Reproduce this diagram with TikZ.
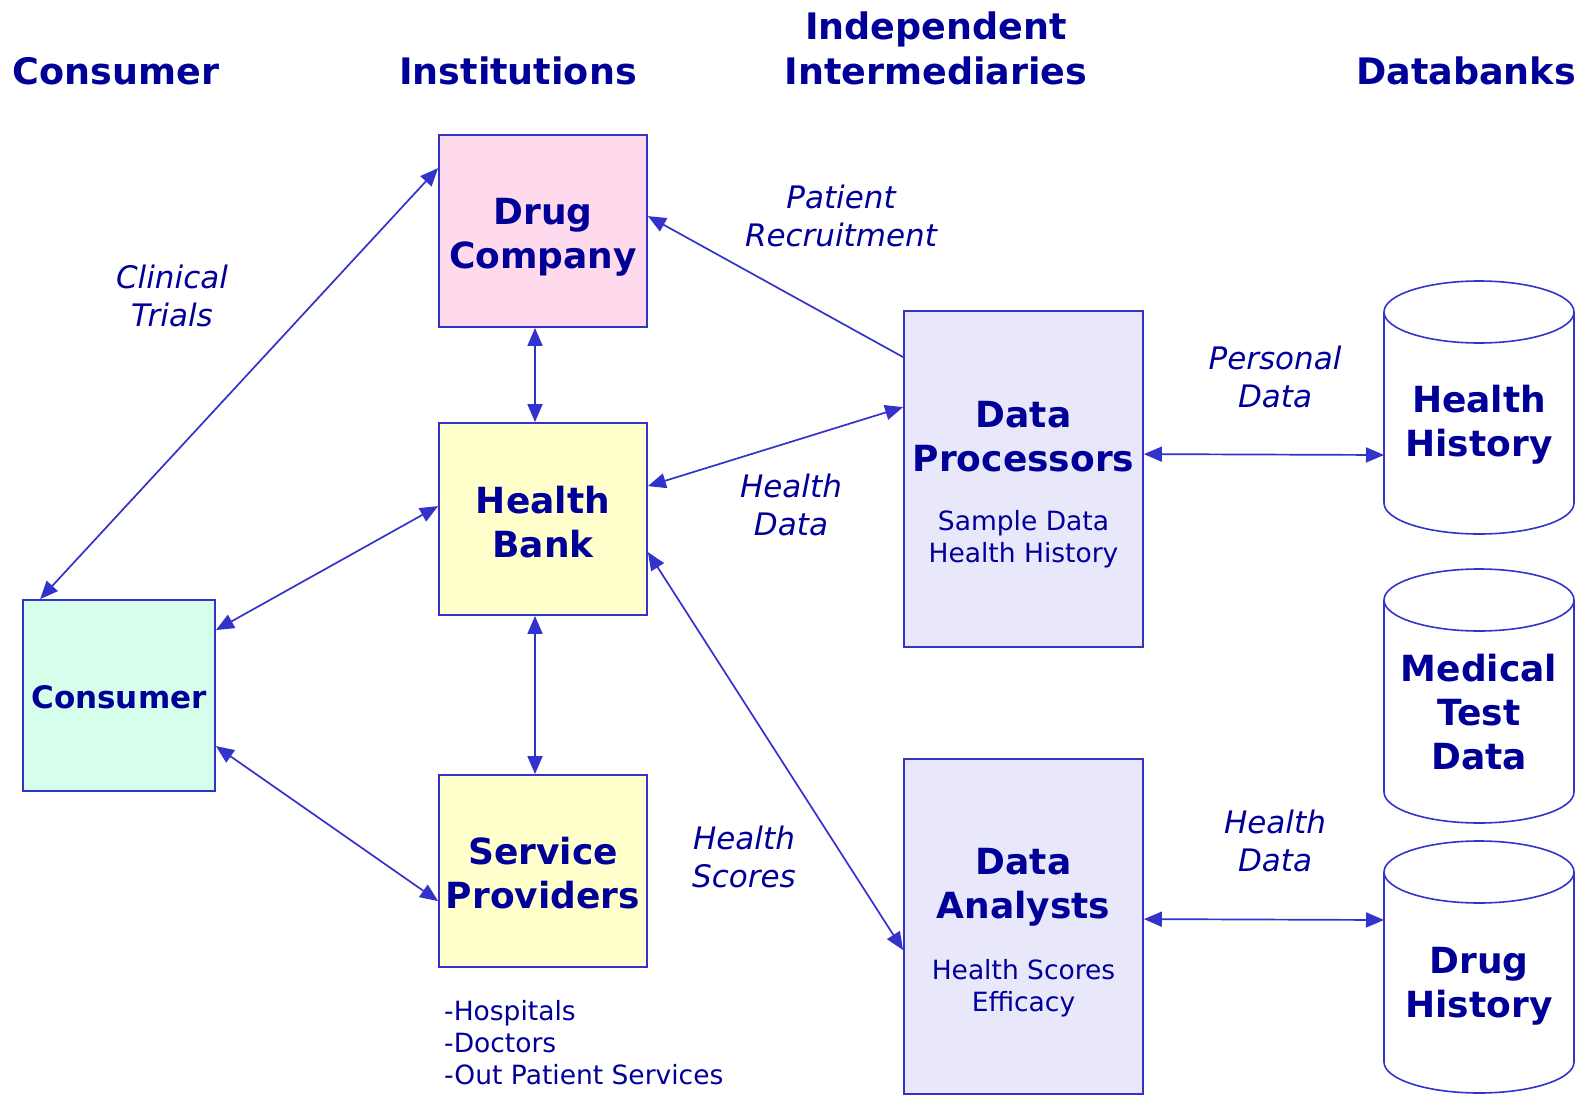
\documentclass[tikz,border=0pt]{standalone}
\usepackage{fontspec}
\setmainfont{DejaVu Sans}
\usetikzlibrary{arrows.meta,calc}
\definecolor{navy}{RGB}{0,0,153}
\definecolor{lineblue}{RGB}{51,51,204}
\definecolor{pinkfill}{RGB}{255,217,236}
\definecolor{yellowfill}{RGB}{255,255,204}
\definecolor{mintfill}{RGB}{213,255,234}
\definecolor{lavfill}{RGB}{232,232,250}
\newcommand\drawdbcyl[3]{%
  \draw[cyl] (#1-95,#2) -- (#1-95,#3) arc[start angle=180,end angle=360,x radius=95pt,y radius=31pt] -- (#1+95,#2);
  \draw[cyl] (#1,#2) ellipse[x radius=95pt,y radius=31pt];}
\begin{document}
\begin{tikzpicture}[x=1pt,y=-1pt,
  box/.style={draw=lineblue,line width=1.8pt,inner sep=0pt,text=navy,align=center,
    font=\fontsize{36}{44}\selectfont\bfseries},
  head/.style={text=navy,font=\fontsize{36.5}{45}\selectfont\bfseries,inner sep=0pt,align=center},
  big/.style={text=navy,font=\fontsize{36}{44}\selectfont\bfseries,inner sep=0pt,align=center},
  lab/.style={text=navy,font=\fontsize{31}{38}\selectfont\itshape,inner sep=0pt,align=center},
  small/.style={text=navy,font=\fontsize{26.5}{32}\selectfont,inner sep=0pt,align=center},
  cyl/.style={draw=lineblue,line width=1.6pt,fill=white},
  conn/.style={draw=lineblue,line width=1.7pt,{Triangle[length=18pt,width=15pt]}-{Triangle[length=18pt,width=15pt]}},
  oneway/.style={draw=lineblue,line width=1.7pt,-{Triangle[length=18pt,width=15pt]}}]
\useasboundingbox (0,0) rectangle (1583,1095);
\fill[white] (0,0) rectangle (1583,1095);

% headers
\node[head,anchor=base] (hcons) at (116,84) {Consumer};
\node[head,anchor=base] (hinst) at (518,84) {Institutions};
\node[head,anchor=base] (hind1) at (936,39) {Independent};
\node[head,anchor=base] (hind2) at (936,84) {Intermediaries};
\node[head,anchor=base] (hdata) at (1466,84) {Databanks};

% boxes
\node[box,fill=pinkfill,minimum width=208pt,minimum height=192pt] (drug) at (543,231) {};
\node[big] (drugt) at (543,237) {Drug\\Company};
\node[box,fill=yellowfill,minimum width=208pt,minimum height=192pt] (hb) at (543,519) {};
\node[big] (hbt) at (543,522) {Health\\Bank};
\node[box,fill=yellowfill,minimum width=208pt,minimum height=192pt] (sp) at (543,871) {};
\node[big] (spt) at (543,873) {Service\\Providers};
\node[box,fill=mintfill,minimum width=192pt,minimum height=191pt,font=\fontsize{31}{38}\selectfont\bfseries] (cons) at (119,695.5) {};
\node[big,font=\fontsize{31}{38}\selectfont\bfseries] (const) at (119,697.5) {Consumer};
\node[box,fill=lavfill,minimum width=239pt,minimum height=336pt] (dp) at (1023.5,479) {};
\node[box,fill=lavfill,minimum width=239pt,minimum height=335pt] (da) at (1023.5,926.5) {};

\node[big] (dpt) at (1023.5,437) {Data\\Processors};
\node[small] (dps) at (1023.5,539) {Sample Data\\Health History};
\node[big] (dat) at (1023.5,887) {Data\\Analysts};
\node[small] (das) at (1023.5,988) {Health Scores\\Efficacy};

\node[small,align=left,anchor=north west] (spl) at (444,1000) {-Hospitals\\-Doctors\\-Out Patient Services};

% databanks
\drawdbcyl{1479}{312}{503}
\drawdbcyl{1479}{600}{792}
\drawdbcyl{1479}{872}{1062}
\node[big] (hh) at (1479,425) {Health\\History};
\node[big] (mt) at (1479,712) {Medical\\Test\\Data};
\node[big] (dh) at (1479,986) {Drug\\History};
\coordinate (hhL) at (1384,455);
\coordinate (dhL) at (1384,920);

% connectors
\draw[conn] ($(cons.north west)+(18,0)$) -- ($(drug.north west)+(0,34)$);
\draw[conn] ($(cons.north east)+(0,31)$) -- ($(hb.north west)+(0,84)$);
\draw[conn] ($(cons.north east)+(0,147)$) -- ($(sp.north west)+(0,127)$);
\draw[conn] ($(drug.south)+(-8,0)$) -- ($(hb.north)+(-8,0)$);
\draw[conn] ($(hb.south)+(-8,0)$) -- ($(sp.north)+(-8,0)$);
\draw[oneway] ($(dp.north west)+(0,47)$) -- ($(drug.north east)+(0,82)$);
\draw[conn] ($(hb.north east)+(0,64)$) -- ($(dp.north west)+(0,97)$);
\draw[conn] ($(hb.north east)+(0,130)$) -- ($(da.north west)+(0,192)$);
\draw[conn] ($(dp.north east)+(0,144)$) -- (hhL);
\draw[conn] ($(da.north east)+(0,161)$) -- (dhL);

% labels
\node[lab] (lct) at (172,296) {Clinical\\Trials};
\node[lab] (lpr) at (841,216) {Patient\\Recruitment};
\node[lab] (lhd) at (791,505) {Health\\Data};
\node[lab] (lhs) at (744,857) {Health\\Scores};
\node[lab] (lpd) at (1275,377) {Personal\\Data};
\node[lab] (lhd2) at (1275,841) {Health\\Data};
\end{tikzpicture}
\end{document}
